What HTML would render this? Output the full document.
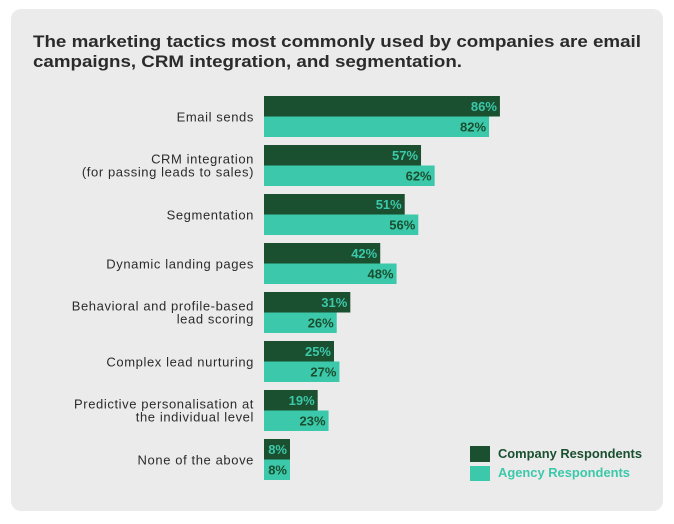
<!DOCTYPE html>
<html><head><meta charset="utf-8"><style>
body{margin:0;background:#fff;}
svg{display:block;font-family:"Liberation Sans",sans-serif;}
</style></head><body>
<svg id="chart" width="674" height="524">
<rect x="11" y="9" width="652" height="502" rx="10" fill="#ebebeb"/>
<text x="33" y="47" font-size="17" font-weight="bold" fill="#2b2b2b" textLength="608" lengthAdjust="spacingAndGlyphs">The marketing tactics most commonly used by companies are email</text>
<text x="33" y="67" font-size="17" font-weight="bold" fill="#2b2b2b" textLength="429" lengthAdjust="spacingAndGlyphs">campaigns, CRM integration, and segmentation.</text>
<g id="bars"></g>
<rect x="470" y="446" width="20" height="16" fill="#1a4f2f"/>
<text x="498" y="458" font-size="12.5" font-weight="bold" fill="#1a4f2f" textLength="144" lengthAdjust="spacingAndGlyphs">Company Respondents</text>
<rect x="470" y="466" width="20" height="15" fill="#3cc8aa"/>
<text x="498" y="477" font-size="12.5" font-weight="bold" fill="#3cc8aa" textLength="132" lengthAdjust="spacingAndGlyphs">Agency Respondents</text>
</svg>
<script>
const categories=[["Email sends"],["CRM integration","(for passing leads to sales)"],["Segmentation"],["Dynamic landing pages"],["Behavioral and profile-based","lead scoring"],["Complex lead nurturing"],["Predictive personalisation at","the individual level"],["None of the above"]];
const companyValues=[86,57,51,42,31,25,19,8];
const agencyValues=[82,62,56,48,26,27,23,8];
const NS="http://www.w3.org/2000/svg";
const g=document.getElementById('bars');
const x0=264, pxPer=2.72, top0=96, stride=49, bh=20.5;
function xw(v){return Math.max(v*pxPer+2,26);}
function yg(i){return top0+i*stride;}
function mk(tag,attrs){const e=document.createElementNS(NS,tag);for(const k in attrs)e.setAttribute(k,attrs[k]);g.appendChild(e);return e;}
categories.forEach((lines,i)=>{
  const y=yg(i);
  const series=[[companyValues[i],"#1a4f2f","#3cc8aa","company"],[agencyValues[i],"#3cc8aa","#1a4f2f","agency"]];
  series.forEach((s,j)=>{
    const by=y+j*bh, w=xw(s[0]);
    const r=mk('rect',{x:x0,y:by,width:w,height:bh,fill:s[1]});
    
    
    const t=mk('text',{x:x0+w-3,y:by+15,'font-size':13,'font-weight':'bold',fill:s[2],'text-anchor':'end'});
    t.textContent=s[0]+'%';
    
    
  });
  const mid=y+bh;
  lines.forEach((ln,k)=>{
    const ly=lines.length===1?mid+5:mid-2+k*13;
    const t=mk('text',{x:254,y:ly,'font-size':13,fill:'#2b2b2b','text-anchor':'end','letter-spacing':'0.6'});
    t.textContent=ln;
    
    
  });
});
</script>
</body></html>
